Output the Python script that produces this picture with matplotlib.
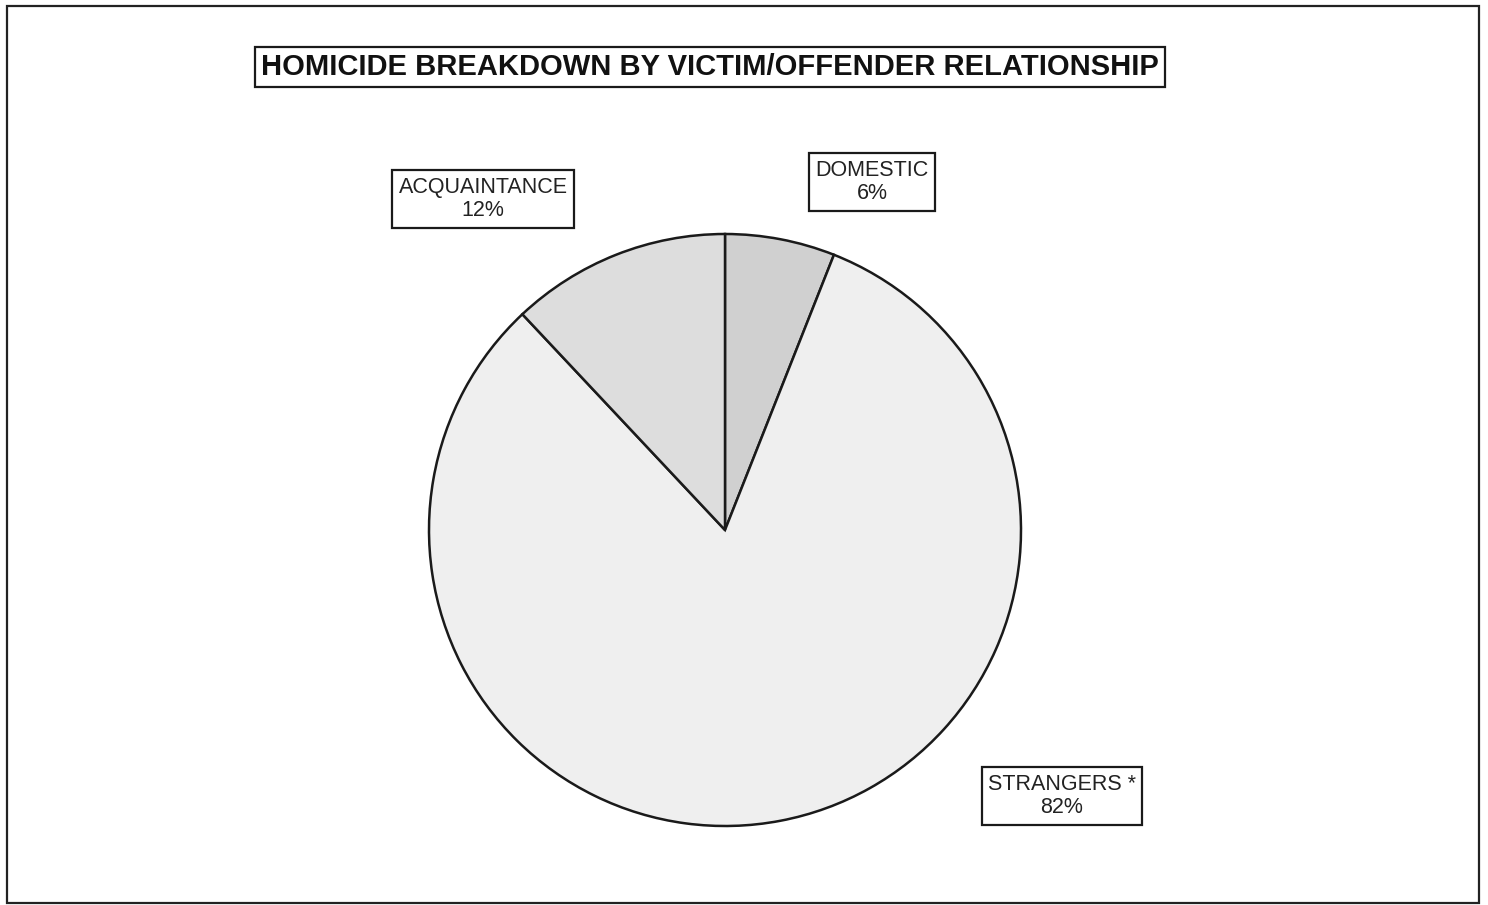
import matplotlib.pyplot as plt
from matplotlib.patches import Rectangle

# datos del grafico
categorias = ["DOMESTIC", "STRANGERS *", "ACQUAINTANCE"]
porcentajes = [6, 82, 12]
colores = ["#d0d0d0", "#efefef", "#dddddd"]

plt.rcParams['font.family'] = ['Liberation Sans', 'DejaVu Sans']

fig = plt.figure(figsize=(14.88, 9.05), dpi=100)

# marco exterior
fig.patches.append(Rectangle((7 / 1488, 2 / 905), 1472 / 1488, 897 / 905,
                             transform=fig.transFigure, fill=False,
                             edgecolor="#222222", linewidth=1.6))

# torta
ax = fig.add_axes([429 / 1488, (905 - 826) / 905, 592 / 1488, 592 / 905])
ax.pie(porcentajes, colors=colores, startangle=90, counterclock=False, radius=1,
       wedgeprops={"edgecolor": "#1a1a1a", "linewidth": 1.8})
ax.set_xlim(-1.0, 1.0)
ax.set_ylim(-1.0, 1.0)
ax.set_aspect("equal")
ax.axis("off")

caja = dict(boxstyle="square,pad=0.3", facecolor="white", edgecolor="#1a1a1a", linewidth=1.6)

# titulo
fig.text(710 / 1488, 1 - 67 / 905, "HOMICIDE BREAKDOWN BY VICTIM/OFFENDER RELATIONSHIP",
         ha="center", va="center", fontsize=21, fontweight="bold", color="#111111",
         bbox=dict(boxstyle="square,pad=0.22", facecolor="white", edgecolor="#1a1a1a", linewidth=1.6))

# etiquetas
posiciones = {"DOMESTIC": (872, 182), "STRANGERS *": (1062, 796), "ACQUAINTANCE": (483, 199)}
for nombre, valor in zip(categorias, porcentajes):
    x, y = posiciones[nombre]
    fig.text(x / 1488, 1 - y / 905, nombre + "\n" + str(valor) + "%",
             ha="center", va="center", fontsize=15.5, color="#222222",
             linespacing=1.15, bbox=caja)

fig.savefig("out.png", dpi=100)
